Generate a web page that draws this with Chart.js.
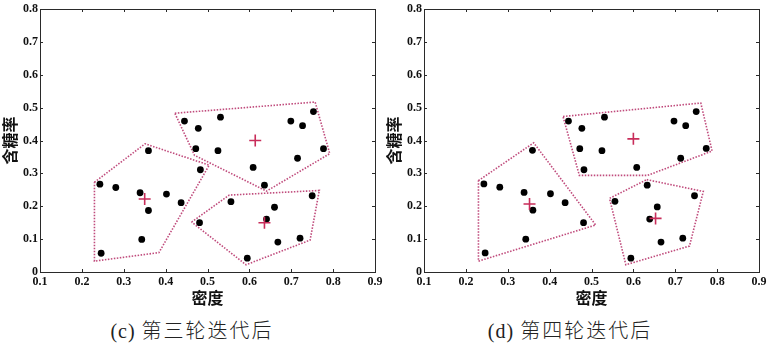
<!DOCTYPE html>
<html><head><meta charset="utf-8">
<script src="https://cdn.jsdelivr.net/npm/chart.js@4/dist/chart.umd.min.js"></script>
<style>
html,body{margin:0;padding:0;background:#fff;width:769px;height:344px;overflow:hidden;}
.wrap{position:absolute;top:0;width:384px;height:310px;}
.cap{position:absolute;top:315px;font-family:"Liberation Serif","Noto Sans CJK SC",serif;font-size:20px;color:#222;letter-spacing:1px;white-space:nowrap;transform:translateX(-50%);}
.cap .cjk{font-family:"Noto Sans CJK SC",sans-serif;font-weight:300;letter-spacing:2px;}
</style></head>
<body>
<div class="wrap" style="left:0"><canvas id="c1" width="384" height="310"></canvas></div>
<div class="wrap" style="left:384px"><canvas id="c2" width="384" height="310"></canvas></div>
<div class="cap" style="left:192px">(c) <span class="cjk">第三轮迭代后</span></div>
<div class="cap" style="left:570px">(d) <span class="cjk">第四轮迭代后</span></div>
<script>
// ---- tick labels ----
const xTickLabels = ["0.1","0.2","0.3","0.4","0.5","0.6","0.7","0.8","0.9"];
const yTickLabels = ["0","0.1","0.2","0.3","0.4","0.5","0.6","0.7","0.8"];
const xTitle = "密度";
const yTitle = "含糖率";

// ---- (c) third iteration: [density, sugar] ----
const c_clusterLeft = [[0.243,0.267],[0.281,0.257],[0.339,0.241],[0.359,0.369],[0.359,0.187],[0.402,0.237],[0.437,0.211],[0.483,0.311],[0.343,0.099],[0.246,0.057]];
const c_clusterUpper = [[0.445,0.459],[0.478,0.437],[0.531,0.471],[0.472,0.375],[0.525,0.369],[0.609,0.318],[0.636,0.264],[0.699,0.459],[0.727,0.445],[0.753,0.488],[0.777,0.375],[0.715,0.346]];
const c_clusterLower = [[0.556,0.214],[0.660,0.197],[0.641,0.161],[0.750,0.232],[0.481,0.150],[0.668,0.091],[0.721,0.103],[0.595,0.042]];
const c_centroids = [[0.350,0.222],[0.614,0.400],[0.636,0.150]];
const c_hullLeft = [[0.230,0.273],[0.351,0.390],[0.504,0.325],[0.384,0.059],[0.230,0.033]];
const c_hullUpper = [[0.422,0.483],[0.757,0.517],[0.792,0.360],[0.641,0.246],[0.469,0.355]];
const c_hullLower = [[0.462,0.152],[0.552,0.234],[0.767,0.248],[0.745,0.097],[0.592,0.022]];

// ---- (d) fourth iteration ----
const d_clusterLeft = [[0.243,0.268],[0.281,0.258],[0.339,0.242],[0.359,0.370],[0.360,0.188],[0.402,0.238],[0.437,0.211],[0.481,0.150],[0.343,0.100],[0.246,0.058]];
const d_clusterUpper = [[0.445,0.459],[0.477,0.437],[0.531,0.471],[0.472,0.375],[0.525,0.369],[0.482,0.311],[0.608,0.318],[0.697,0.459],[0.725,0.445],[0.750,0.488],[0.774,0.376],[0.713,0.346]];
const d_clusterLower = [[0.556,0.215],[0.633,0.264],[0.657,0.198],[0.639,0.161],[0.746,0.232],[0.666,0.091],[0.718,0.103],[0.594,0.042]];
const d_centroids = [[0.352,0.207],[0.600,0.405],[0.653,0.163]];
const d_hullLeft = [[0.230,0.278],[0.362,0.393],[0.510,0.143],[0.230,0.033]];
const d_hullUpper = [[0.432,0.473],[0.761,0.514],[0.788,0.368],[0.634,0.294],[0.471,0.294]];
const d_hullLower = [[0.632,0.281],[0.767,0.245],[0.734,0.079],[0.582,0.022],[0.543,0.224]];

const hullColor = "rgba(185,55,110,0.9)";
const crossColor = "rgb(200,45,90)";
const toXY = a => a.map(p => ({x:p[0], y:p[1]}));
const closed = a => toXY(a.concat([a[0]]));

const boxPlugin = {
  id:'boxTicks',
  afterDraw(chart){
    const {ctx, chartArea:ca, scales:{x,y}} = chart;
    ctx.save();
    ctx.strokeStyle = "#2a2a2a";
    ctx.lineWidth = 1;
    ctx.strokeRect(Math.round(ca.left)+0.5, Math.round(ca.top)+0.5, Math.round(ca.right-ca.left), Math.round(ca.bottom-ca.top));
    const L = 3;
    ctx.beginPath();
    x.ticks.forEach(t => {
      const px = Math.round(x.getPixelForValue(t.value))+0.5;
      ctx.moveTo(px, ca.bottom); ctx.lineTo(px, ca.bottom - L);
      ctx.moveTo(px, ca.top); ctx.lineTo(px, ca.top + L);
    });
    y.ticks.forEach(t => {
      const py = Math.round(y.getPixelForValue(t.value))+0.5;
      ctx.moveTo(ca.left, py); ctx.lineTo(ca.left + L, py);
      ctx.moveTo(ca.right, py); ctx.lineTo(ca.right - L, py);
    });
    ctx.stroke();
    ctx.restore();
  }
};

function makeChart(id, left, upper, lower, cents, hL, hU, hLo){
  const hullDs = h => ({type:'line', data:closed(h), showLine:true, borderColor:hullColor, borderWidth:1.6, borderDash:[1.5,1.5], pointRadius:0, fill:false, tension:0, order:3});
  const ptDs = pts => ({type:'scatter', data:toXY(pts), backgroundColor:"#000", borderColor:"#000", borderWidth:0, pointRadius:3.4, pointHoverRadius:3.4, order:2});
  new Chart(document.getElementById(id), {
    type:'scatter',
    data:{datasets:[
      hullDs(hL), hullDs(hU), hullDs(hLo),
      ptDs(left), ptDs(upper), ptDs(lower),
      {type:'scatter', data:toXY(cents), pointStyle:'cross', pointRadius:6, borderColor:crossColor, backgroundColor:crossColor, borderWidth:1.6, order:1}
    ]},
    options:{
      responsive:false, animation:false, events:[],
      layout:{padding:{left:0,right:9,top:9,bottom:0}},
      plugins:{legend:{display:false}, tooltip:{enabled:false}},
      scales:{
        x:{type:'linear', min:0.1, max:0.9,
          ticks:{stepSize:0.1, padding:3, color:"#111", maxRotation:0, autoSkip:false,
            font:{family:"Liberation Serif", weight:'bold', size:12},
            callback:(v,i)=>xTickLabels[i]},
          grid:{display:false, drawTicks:false}, border:{display:false},
          title:{display:true, text:xTitle, color:"#111", font:{family:"Noto Sans CJK SC", weight:'bold', size:16}, padding:{top:0,bottom:2}},
          afterFit(s){ s.height = 38; s.paddingLeft = 0; s.paddingRight = 0; }
        },
        y:{type:'linear', min:0, max:0.8,
          ticks:{stepSize:0.1, padding:2, color:"#111", autoSkip:false,
            font:{family:"Liberation Serif", weight:'bold', size:12},
            callback:(v,i)=>yTickLabels[i]},
          grid:{display:false, drawTicks:false}, border:{display:false},
          title:{display:true, text:yTitle, color:"#111", font:{family:"Noto Sans CJK SC", weight:'bold', size:16}, padding:{top:0,bottom:0}},
          afterFit(s){ s.width = 40; s.paddingTop = 0; s.paddingBottom = 0; }
        }
      }
    },
    plugins:[boxPlugin]
  });
}
makeChart('c1', c_clusterLeft, c_clusterUpper, c_clusterLower, c_centroids, c_hullLeft, c_hullUpper, c_hullLower);
makeChart('c2', d_clusterLeft, d_clusterUpper, d_clusterLower, d_centroids, d_hullLeft, d_hullUpper, d_hullLower);
</script>
</body></html>
